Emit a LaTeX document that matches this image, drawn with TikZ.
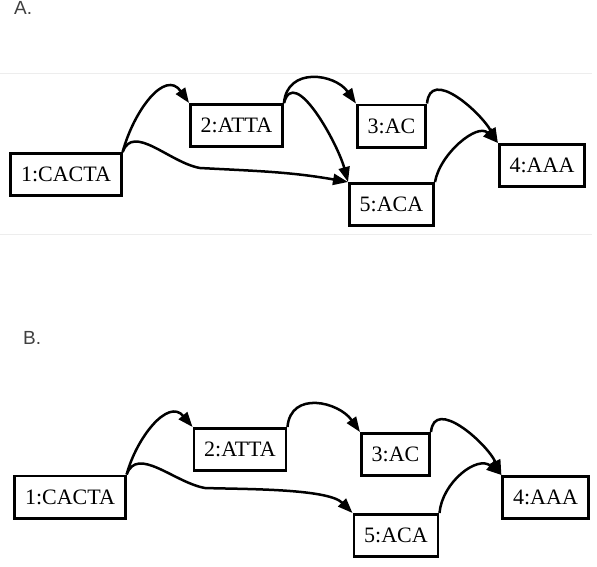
\documentclass[tikz,border=0pt]{standalone}
\usepackage{fontspec}
\setmainfont{Liberation Serif}
\newfontfamily\lblfont{Liberation Sans}
\usetikzlibrary{arrows.meta}

\begin{document}
\begin{tikzpicture}[x=1pt,y=-1pt,
   seq/.style={draw=black,line width=2.8pt,inner xsep=10.3pt,inner ysep=0pt,
     minimum height=42.2pt,font=\fontsize{22}{26}\selectfont},
   lnk/.style={line width=2.5pt,-{Triangle[length=15pt,width=11pt]}},
   lbl/.style={font=\lblfont\fontsize{19}{22}\selectfont,text=black!75,
     anchor=base west,inner sep=0pt}]
   \useasboundingbox (0,0) rectangle (597,566);
   \draw[black!7,line width=1pt] (0,73) -- (592,73);
   \draw[black!7,line width=1pt] (0,234) -- (592,234);
   % A.
   \node[lbl] (la) at (14,14.5) {A.};
   \node[seq] (a1) at (66,174.5) {1:CACTA};
   \node[seq] (a2) at (236.5,125.5) {2:ATTA};
   \node[seq] (a3) at (391.5,126) {3:AC};
   \node[seq] (a4) at (542,165.5) {4:AAA};
   \node[seq] (a5) at (391.5,204.5) {5:ACA};
   \coordinate (a15) at (200,168);
   \draw[lnk] (a1.north east) to[out=75,in=125,looseness=1.3] (a2.north west);
   \draw[lnk] (a1.north east) to[out=70,in=170] (a15) to[out=-3,in=170] (a5.north west);
   \draw[lnk] (a2.north east) to[out=85,in=125,looseness=1.3] (a3.north west);
   \draw[lnk] (a2.north east) to[out=75,in=105] (a5.north west);
   \draw[lnk] (a3.north east) to[out=85,in=120,looseness=1.15] (a4.north west);
   \draw[lnk] (a5.north east) to[out=80,in=135] (a4.north west);
   % B.
   \node[lbl] (lb) at (23,344) {B.};
   \node[seq] (b1) at (70,497) {1:CACTA};
   \node[seq] (b2) at (240,449.5) {2:ATTA};
   \node[seq] (b3) at (395.5,454.5) {3:AC};
   \node[seq] (b4) at (545.5,497.5) {4:AAA};
   \node[seq] (b5) at (396,535.5) {5:ACA};
   \coordinate (b15) at (205,488);
   \draw[lnk] (b1.north east) to[out=75,in=130,looseness=1.2] (b2.north west);
   \draw[lnk] (b1.north east) to[out=70,in=170] (b15) to[out=-2,in=135,looseness=0.6] (b5.north west);
   \draw[lnk] (b2.north east) to[out=85,in=125,looseness=1.3] (b3.north west);
   \draw[lnk] (b3.north east) to[out=85,in=115,looseness=1.1] (b4.north west);
   \draw[lnk] (b5.north east) to[out=85,in=140,looseness=1.1] (b4.north west);
\end{tikzpicture}
\end{document}
